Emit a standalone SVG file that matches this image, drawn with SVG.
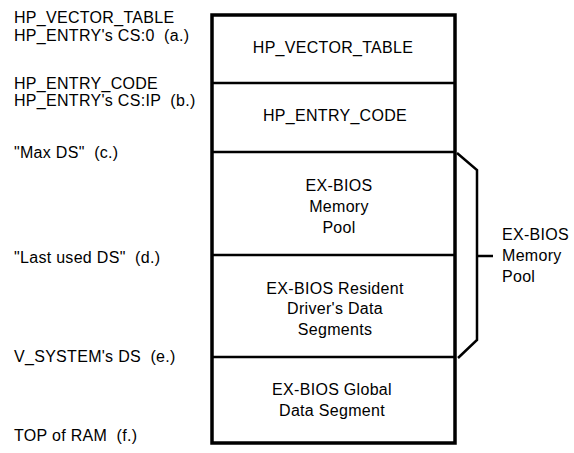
<svg xmlns="http://www.w3.org/2000/svg" width="574" height="453" viewBox="0 0 574 453">
<style>
text{font-family:"Liberation Sans",Arial,sans-serif;font-size:16px;fill:#000;letter-spacing:0.3px;white-space:pre}
.c{text-anchor:middle}
.frame{fill:#fff;stroke:#000;stroke-width:3.5}
.div{stroke:#000;stroke-width:2.5;fill:none}
.br{stroke:#000;stroke-width:2.5;fill:none;stroke-linejoin:miter}
</style>
<rect width="574" height="453" fill="#fff"/>
<g id="labels">
<text x="14" y="23">HP_VECTOR_TABLE</text>
<text x="14" y="41" xml:space="preserve">HP_ENTRY's CS:0  (a.)</text>
<text x="14" y="89">HP_ENTRY_CODE</text>
<text x="14" y="106" xml:space="preserve">HP_ENTRY's CS:IP  (b.)</text>
<text x="14" y="158" xml:space="preserve">"Max DS"  (c.)</text>
<text x="14" y="263" xml:space="preserve">"Last used DS"  (d.)</text>
<text x="14" y="362" xml:space="preserve">V_SYSTEM's DS  (e.)</text>
<text x="14" y="441" xml:space="preserve">TOP of RAM  (f.)</text>
</g>
<g id="memory">
<rect class="frame" x="212" y="15" width="243" height="428"/>
</g>
<g id="connectors">
<line class="div" x1="212" y1="83" x2="455" y2="83"/>
<line class="div" x1="212" y1="152" x2="455" y2="152"/>
<line class="div" x1="212" y1="255" x2="455" y2="255"/>
<line class="div" x1="212" y1="357" x2="455" y2="357"/>
<path class="br" d="M457,153 L477,170 L477,340 L458,358"/>
<line class="br" x1="477" y1="256" x2="493" y2="256"/>
</g>
<g id="vector_table"><text class="c" x="333" y="53">HP_VECTOR_TABLE</text></g>
<g id="entry_code"><text class="c" x="335" y="121">HP_ENTRY_CODE</text></g>
<g id="memory_pool">
<text class="c" x="339" y="191">EX-BIOS</text>
<text class="c" x="339" y="212">Memory</text>
<text class="c" x="339" y="233">Pool</text>
</g>
<g id="resident">
<text class="c" x="335" y="294">EX-BIOS Resident</text>
<text class="c" x="335" y="314">Driver's Data</text>
<text class="c" x="335" y="335">Segments</text>
</g>
<g id="global">
<text class="c" x="332" y="395">EX-BIOS Global</text>
<text class="c" x="332" y="416">Data Segment</text>
</g>
<g id="pool_label">
<text x="502" y="240">EX-BIOS</text>
<text x="502" y="261">Memory</text>
<text x="502" y="282">Pool</text>
</g>
</svg>
